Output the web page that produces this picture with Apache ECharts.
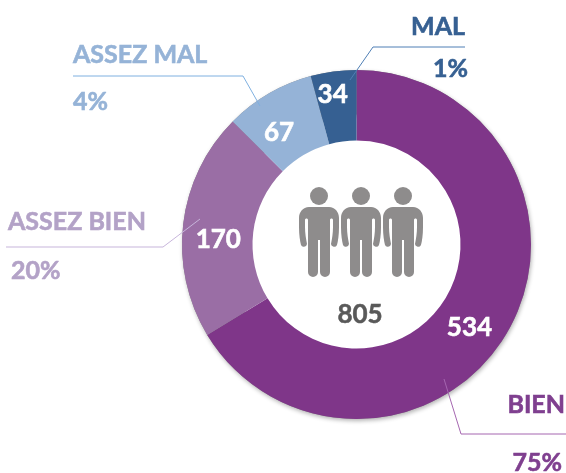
<!DOCTYPE html>
<html>
<head>
<meta charset="utf-8">
<style>
    html, body { margin: 0; padding: 0; background: #fff; }
    #chart { width: 566px; height: 473px; }
</style>
<script src="https://cdn.jsdelivr.net/npm/echarts@6/dist/echarts.min.js"></script>
</head>
<body>
<div id="chart"></div>
<script>
const categories = ['BIEN', 'ASSEZ BIEN', 'ASSEZ MAL', 'MAL']
const counts = [534, 170, 67, 34]
const percents = ['75%', '20%', '4%', '1%']
const total = 805

const sliceColors = ['#7F3689', '#9A6EA5', '#95B3D7', '#366092']
const textColors = ['#7F3F8F', '#B3A2C7', '#95B3D7', '#366092']
const lineColors = ['#A566B0', '#C7B5DB', '#7FB0E0', '#4F7FB5']
const font = 'Lato, "Open Sans", sans-serif'

// nudge the value labels away from the mid radius
const labelOffsets = [[-11, 13], [3, 12], [-6, 11], [-5, -9]]

// leader lines and the two texts of each callout
const callouts = [
    { line: [[444, 379], [461, 434], [566, 434]], name: [565, 405, 'right'], pct: [562, 463, 'right'] },
    { line: [[200, 219], [163, 247], [6, 247]], name: [8, 222, 'left'], pct: [11, 271, 'left'] },
    { line: [[260, 106], [243, 76], [73, 76]], name: [73, 55, 'left'], pct: [73, 102, 'left'] },
    { line: [[350, 80], [373, 47], [465, 47]], name: [465, 27, 'right'], pct: [468, 69, 'right'] },
]

// one person, x centred on 0, y from the shoulders down
const personBody = 'M-10,0 L10,0 C16,0 20,5 20,11 L20,20 C20,28 19,34 18,38 A3.2,3.2 0 0 1 12,37 C13,32 14,26 14,20 L14,13 C14,11 11,11 11,13 L11,65 A5,5 0 0 1 1,65 L1,33 L-1,33 L-1,65 A5,5 0 0 1 -11,65 L-11,13 C-11,11 -14,11 -14,13 L-14,20 C-14,26 -13,32 -12,37 A3.2,3.2 0 0 1 -18,38 C-19,34 -20,28 -20,20 L-20,11 C-20,5 -16,0 -10,0 Z'
const personX = [319, 361, 403]

// the graphic component has no plain path type, so register the body as a shape
echarts.graphic.registerShape('personBody', echarts.graphic.extendPath(personBody, {}))

const graphics = []

callouts.forEach((c, i) => {
    graphics.push({
        type: 'polyline',
        z: 10,
        shape: { points: c.line },
        style: { stroke: lineColors[i], lineWidth: 1, fill: null },
    })
    graphics.push({
        type: 'text',
        z: 10,
        x: c.name[0],
        y: c.name[1],
        style: {
            text: categories[i],
            align: c.name[2],
            verticalAlign: 'middle',
            fill: textColors[i],
            stroke: textColors[i],
            lineWidth: 0.6,
            font: 'bold 25px ' + font,
        },
    })
    graphics.push({
        type: 'text',
        z: 10,
        x: c.pct[0],
        y: c.pct[1],
        style: {
            text: percents[i],
            align: c.pct[2],
            verticalAlign: 'middle',
            fill: textColors[i],
            stroke: textColors[i],
            lineWidth: 0.6,
            font: 'bold 25px ' + font,
        },
    })
})

personX.forEach((x) => {
    graphics.push({
        type: 'circle',
        z: 10,
        shape: { cx: x, cy: 196, r: 9 },
        style: { fill: '#8E8C8C' },
    })
    graphics.push({
        type: 'personBody',
        z: 10,
        x: x,
        y: 207,
        style: { fill: '#8E8C8C' },
    })
})

graphics.push({
    type: 'text',
    z: 10,
    x: 360,
    y: 315,
    style: {
        text: String(total),
        align: 'center',
        verticalAlign: 'middle',
        fill: '#595959',
        stroke: '#595959',
        lineWidth: 0.5,
        font: 'bold 26px ' + font,
    },
})

const myChart = echarts.init(document.getElementById('chart'), null, { renderer: 'canvas' })
myChart.setOption({
    animation: false,
    series: [
        {
            // soft shadow only, hidden under the real ring except on the outer edge
            type: 'pie',
            z: 1,
            center: [356.5, 244.5],
            radius: [130, 174.5],
            startAngle: 90,
            silent: true,
            label: { show: false },
            labelLine: { show: false },
            itemStyle: {
                color: '#888',
                shadowBlur: 4,
                shadowOffsetX: 1,
                shadowOffsetY: 2,
                shadowColor: 'rgba(0,0,0,0.3)',
            },
            data: counts.map((v) => ({ value: v })),
        },
        {
            type: 'pie',
            z: 2,
            center: [356.5, 244.5],
            radius: [104, 174.5],
            startAngle: 90,
            clockwise: true,
            silent: true,
            label: {
                show: true,
                position: 'inside',
                formatter: '{c}',
                color: '#fff',
                fontFamily: font,
                fontWeight: 'bold',
                fontSize: 26,
                textBorderColor: '#fff',
                textBorderWidth: 0.6,
            },
            labelLine: { show: false },
            data: categories.map((name, i) => ({
                name: name,
                value: counts[i],
                itemStyle: { color: sliceColors[i] },
                label: { offset: labelOffsets[i] },
            })),
        },
    ],
    graphic: graphics,
})
</script>
</body>
</html>
